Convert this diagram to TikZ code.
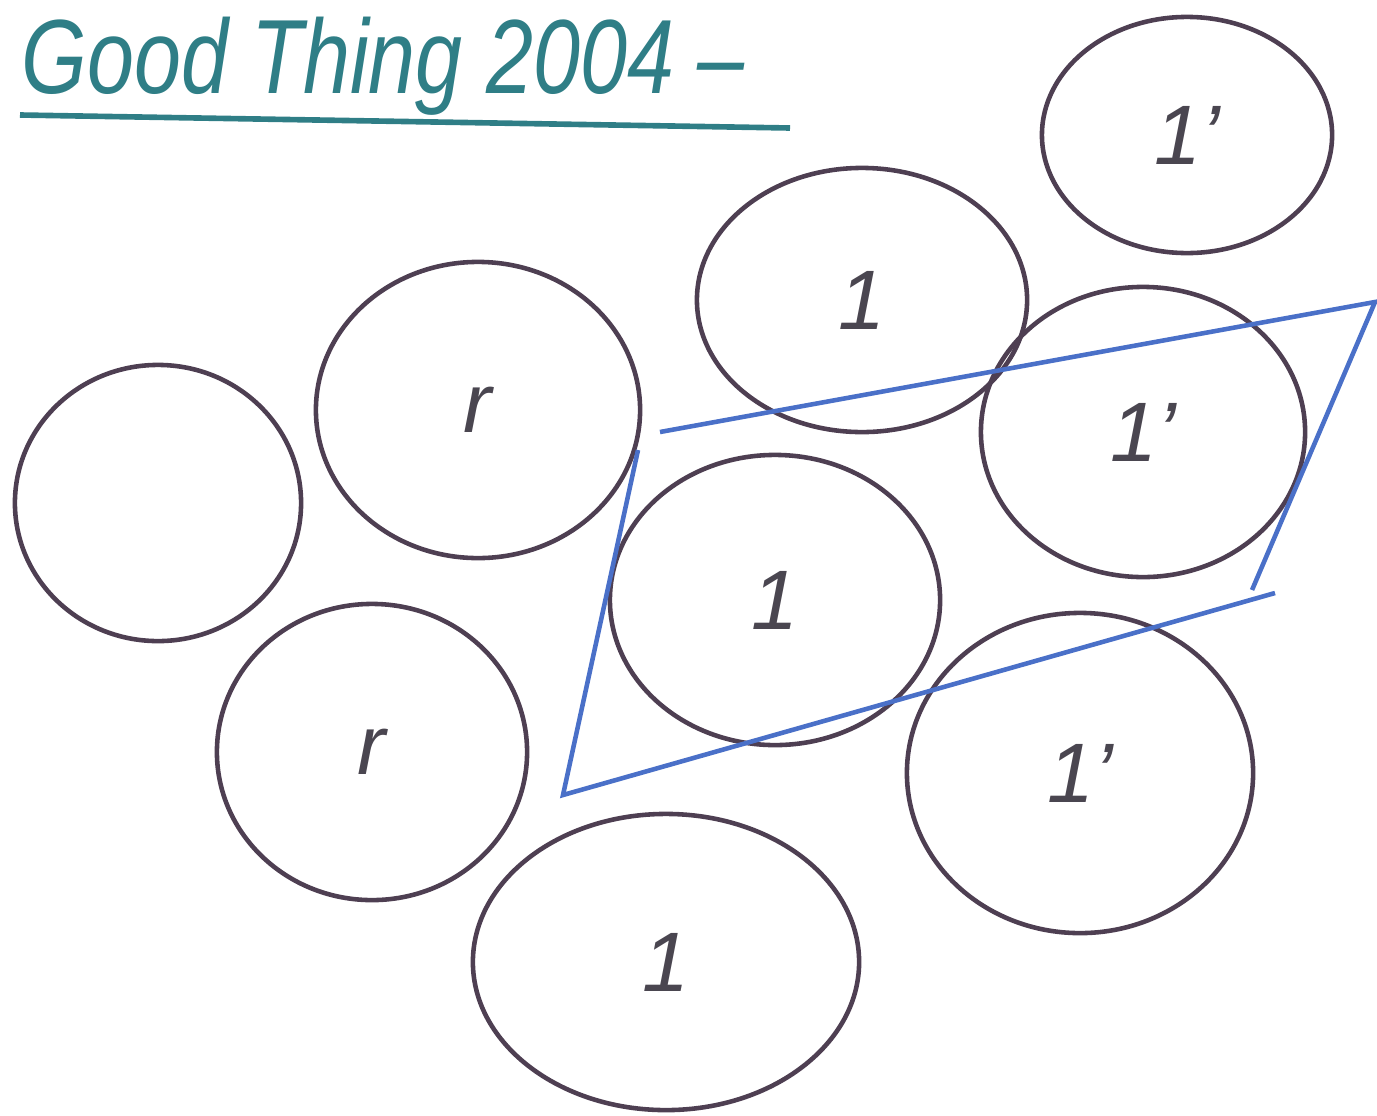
\documentclass[tikz,border=0pt]{standalone}
\usepackage{fontspec}
\setmainfont{Liberation Sans}
\usepackage{xcolor}
\usetikzlibrary{shapes.geometric}
\definecolor{SketchInk}{HTML}{4E3F52}
\definecolor{SketchLabel}{HTML}{4A4650}
\definecolor{SketchTeal}{HTML}{2F7E86}
\definecolor{SketchBlue}{HTML}{4A70C8}
\tikzset{
  cell/.style={ellipse,draw=SketchInk,line width=1.3pt,inner sep=0pt,text=SketchLabel,font=\fontsize{24}{26}\selectfont\itshape}
}

\begin{document}
\begin{tikzpicture}[x=0.01cm,y=-0.01cm]
\useasboundingbox (0,0) rectangle (1377,1115);
\node[anchor=west,text=SketchTeal,font=\fontsize{30}{32}\selectfont\itshape,xscale=0.8] (title) at (12,66) {Good Thing 2004 --};
\draw[SketchTeal,line width=1.6pt] (20,115) -- (790,128);
\node[cell,minimum width=2.9cm,minimum height=2.36cm] (c11) at (1187,135) {1'};
\node[cell,minimum width=3.3cm,minimum height=2.64cm] (c12) at (862,300) {1};
\node[cell,minimum width=3.24cm,minimum height=2.96cm] (c13) at (478,410) {r};
\node[cell,minimum width=2.86cm,minimum height=2.76cm] (c14) at (158,503) {};
\node[cell,minimum width=3.24cm,minimum height=2.9cm] (c21) at (1143,432) {1'};
\node[cell,minimum width=3.3cm,minimum height=2.9cm] (c22) at (775,600) {1};
\node[cell,minimum width=3.1cm,minimum height=2.96cm] (c23) at (372,752) {r};
\node[cell,minimum width=3.46cm,minimum height=3.2cm] (c31) at (1080,773) {1'};
\node[cell,minimum width=3.86cm,minimum height=2.96cm] (c32) at (666,962) {1};
% blue cell outline
\coordinate (pa) at (660,432);
\coordinate (pb) at (1375,302);
\coordinate (pc) at (1252,590);
\coordinate (pd) at (1275,593);
\coordinate (pe) at (563,795);
\coordinate (pf) at (638,450);
\draw[SketchBlue,line width=1.3pt] (pa) -- (pb) -- (pc);
\draw[SketchBlue,line width=1.3pt] (pd) -- (pe) -- (pf);
\end{tikzpicture}
\end{document}
